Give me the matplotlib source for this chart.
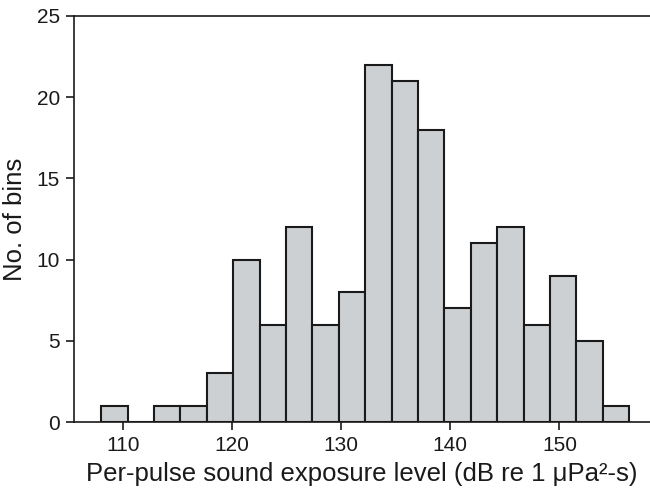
import numpy as np
import matplotlib
matplotlib.use("Agg")
import matplotlib.pyplot as plt

plt.rcParams["font.family"] = ["Liberation Sans", "DejaVu Sans"]

# histogram bins (dB re 1 uPa^2-s) and counts
bin_edges = [108.0, 110.42, 112.84, 115.26, 117.68, 120.1, 122.52, 124.94, 127.36,
             129.78, 132.2, 134.62, 137.04, 139.46, 141.88, 144.3, 146.72, 149.14,
             151.56, 153.98, 156.4]
counts = [1, 0, 1, 1, 3, 10, 6, 12, 6, 8, 22, 21, 18, 7, 11, 12, 6, 9, 5, 1]

x_ticks = [110, 120, 130, 140, 150]
y_ticks = [0, 5, 10, 15, 20, 25]

edges = np.array(bin_edges)

fig = plt.figure(figsize=(6.5, 4.92), dpi=100)
ax = fig.add_axes([74 / 650, 1 - 422 / 492, 1 - 74 / 650, (422 - 16) / 492])

ax.bar(edges[:-1], counts, width=np.diff(edges), align="edge",
       color="#cdd0d3", edgecolor="#1a1a1a", linewidth=1.5)

ax.set_xlim(105.5, 158.3)
ax.set_ylim(0, 25)
ax.set_xticks(x_ticks)
ax.set_yticks(y_ticks)
ax.spines["right"].set_visible(False)
for s in ["left", "top", "bottom"]:
    ax.spines[s].set_linewidth(1.2)
    ax.spines[s].set_color("#1a1a1a")
ax.tick_params(axis="both", direction="out", length=6, width=1.2,
               labelsize=15, colors="#1a1a1a", pad=4)

ax.set_xlabel("Per-pulse sound exposure level (dB re 1 μPa²-s)", fontsize=18.5,
              color="#1a1a1a", labelpad=5)
ax.set_ylabel("No. of bins", fontsize=18.5, color="#1a1a1a", labelpad=7)

fig.savefig("out.png", dpi=100)
